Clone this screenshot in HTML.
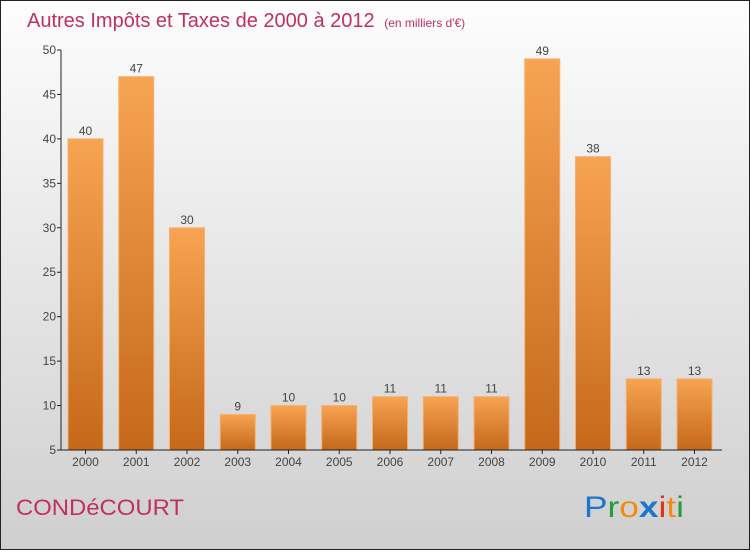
<!DOCTYPE html>
<html><head><meta charset="utf-8"><style>
body{margin:0;width:750px;height:550px;overflow:hidden;font-family:"Liberation Sans",sans-serif}
</style></head><body>
<svg width="750" height="550" xmlns="http://www.w3.org/2000/svg">
<defs>
<linearGradient id="bg" x1="0" y1="0" x2="0" y2="1"><stop offset="0" stop-color="#fdfdfd"/><stop offset="1" stop-color="#cfcfcf"/></linearGradient>
<linearGradient id="bar" x1="0" y1="0" x2="0" y2="1"><stop offset="0" stop-color="#f7a452"/><stop offset="1" stop-color="#c5681a"/></linearGradient>
</defs>
<rect x="0.5" y="0.5" width="749" height="549" fill="url(#bg)" stroke="#222"/>
<text x="27" y="27" font-size="20" fill="#c2305f">Autres Impôts et Taxes de 2000 à 2012 <tspan font-size="12" dx="4">(en milliers d'€)</tspan></text>
<g id="plot"></g>
<text x="16" y="515" font-size="22" fill="#c2305f" textLength="168" lengthAdjust="spacingAndGlyphs">CONDéCOURT</text>
<g font-size="30" font-family="'Liberation Sans',sans-serif">
<text x="584" y="517" textLength="100" lengthAdjust="spacingAndGlyphs" fill="#1a77d0">P<tspan fill="#2a9a3a">r</tspan><tspan fill="#f58a10">o</tspan><tspan fill="#1a77d0" font-weight="bold">x</tspan><tspan fill="#e53010">i</tspan><tspan fill="#f58a10">t</tspan><tspan fill="#2a9a3a">i</tspan></text>
</g>
</svg>
<script>
const categories=["2000","2001","2002","2003","2004","2005","2006","2007","2008","2009","2010","2011","2012"];
const values=[40,47,30,9,10,10,11,11,11,49,38,13,13];
const yTicks=[5,10,15,20,25,30,35,40,45,50];
const NS="http://www.w3.org/2000/svg";
const g=document.getElementById('plot');
const yMin=5,yMax=50,y0=450,y1=50,x0=61;
const ys=v=>y0-(v-yMin)/(yMax-yMin)*(y0-y1);
const xs=i=>85.5+i*50.75;
function mk(t,a,p){const e=document.createElementNS(NS,t);for(const k in a)e.setAttribute(k,a[k]);(p||g).appendChild(e);return e;}
values.forEach((v,i)=>{
 const r=mk('rect',{x:xs(i)-17.5,y:ys(v),width:35,height:y0-ys(v),fill:'url(#bar)',stroke:'#f6b070','stroke-width':1});
 
 
 const t=mk('text',{x:xs(i),y:ys(v)-4,'text-anchor':'middle','font-size':12,fill:'#444'});t.textContent=v;
 
 
 const c=mk('text',{x:xs(i),y:466,'text-anchor':'middle','font-size':12,fill:'#444'});c.textContent=categories[i];
 
 
 mk('line',{x1:xs(i),x2:xs(i),y1:y0,y2:y0+4,stroke:'#222'});
});
yTicks.forEach(v=>{
 mk('line',{x1:x0-4,x2:x0,y1:ys(v),y2:ys(v),stroke:'#222'});
 const t=mk('text',{x:x0-5,y:ys(v)+4,'text-anchor':'end','font-size':12,fill:'#444'});t.textContent=v;
 
 
});
const ya=mk('line',{x1:x0,x2:x0,y1:y1,y2:y0,stroke:'#222'});


const xa=mk('line',{x1:x0,x2:722,y1:y0,y2:y0,stroke:'#222'});


</script>
</body></html>
